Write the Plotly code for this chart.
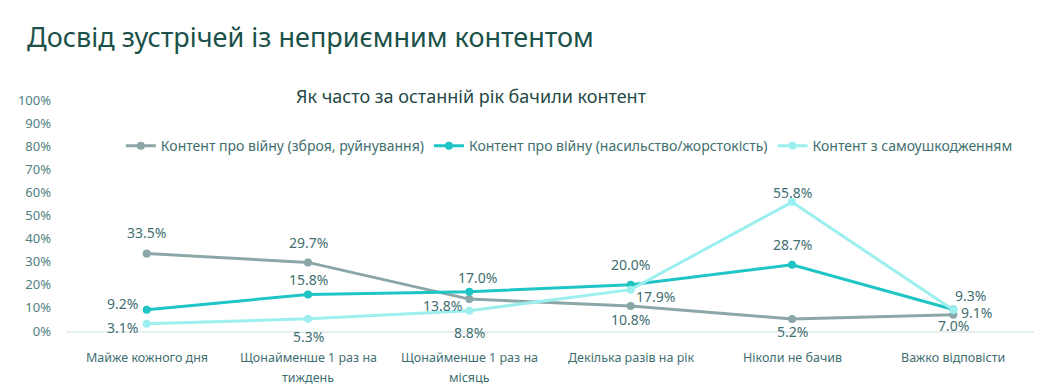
import plotly.graph_objects as go

categories = ["Майже кожного дня", "Щонайменше 1 раз на<br>тиждень", "Щонайменше 1 раз на<br>місяць",
              "Декілька разів на рік", "Ніколи не бачив", "Важко відповісти"]
series_names = ["Контент про війну (зброя, руйнування)",
                "Контент про війну (насильство/жорстокість)",
                "Контент з самоушкодженням"]
war_weapons = [33.5, 29.7, 13.8, 10.8, 5.2, 7.0]
war_violence = [9.2, 15.8, 17.0, 20.0, 28.7, 9.3]
self_harm = [3.1, 5.3, 8.8, 17.9, 55.8, 9.1]

colors = ["#8ba6a7", "#1fc4c4", "#9cefee"]
# label offsets in pixels (x, y-up)
label_shifts = [
    [(0, 21), (0, 20), (-27, -6), (0, -13), (0, -13), (0, -11)],
    [(-24, 6), (0, 15), (8, 14), (0, 20), (0, 20), (17, 14)],
    [(-24, -4), (0, -18), (0, -22), (25, -7), (0, 10), (23, -3)],
]

# page body has an 8px margin; compensate
OFF = 8
W, H = 1049 - OFF, 386 - OFF

fig = go.Figure()
annotations = []
for name, vals, col, shifts in zip(series_names, [war_weapons, war_violence, self_harm], colors, label_shifts):
    fig.add_trace(go.Scatter(
        x=categories, y=vals, name=name, mode="lines+markers",
        line=dict(color=col, width=3), marker=dict(color=col, size=8),
        cliponaxis=False,
    ))
    for c, v, (dx, dy) in zip(categories, vals, shifts):
        annotations.append(dict(x=c, y=v, xref="x", yref="y", text=f"{v:.1f}%", showarrow=False,
                                xshift=dx, yshift=dy, xanchor="center", yanchor="middle",
                                font=dict(size=14, color="#3f6f70", family="Noto Sans")))

# category labels (drawn as text below the axis, with wide line spacing)
for c in categories:
    for i, line in enumerate(c.split("<br>")):
        annotations.append(dict(x=c, y=0, xref="x", yref="paper", text=line, showarrow=False,
                                yshift=-(26 + 20 * i), xanchor="center", yanchor="middle",
                                font=dict(size=12.5, color="#3f6f70", family="Noto Sans")))

annotations.append(dict(text="Як часто за останній рік бачили контент", xref="paper", yref="paper",
                        x=0.419, y=1.017, xanchor="center", yanchor="middle", showarrow=False,
                        font=dict(size=18, color="#1f4a45", family="Noto Sans")))

fig.update_layout(
    width=W, height=H,
    margin=dict(l=66 - OFF, r=15, t=100 - OFF, b=55),
    paper_bgcolor="white", plot_bgcolor="white",
    font=dict(family="Noto Sans", color="#3f6f70"),
    title=dict(text="Досвід зустрічей із неприємним контентом", x=(27 - OFF) / W, xanchor="left",
               y=1 - (38 - OFF) / H, yanchor="middle", xref="container", yref="container",
               font=dict(size=27, color="#1b5149", family="Noto Sans")),
    legend=dict(orientation="h", x=0.52, xanchor="center", y=0.80, yanchor="middle",
                font=dict(size=14, color="#3f6f70"), bgcolor="rgba(0,0,0,0)",
                itemwidth=30, tracegroupgap=0),
    showlegend=True,
    annotations=annotations,
)
fig.update_yaxes(range=[0, 100], dtick=10, ticksuffix="%", showgrid=False, zeroline=False,
                 showline=False, tickfont=dict(size=13, color="#4f7f80"), ticklabelstandoff=14,
                 automargin=False)
fig.update_xaxes(range=[-0.5, 5.5], showgrid=False, showline=True, linecolor="#e6f0f0", linewidth=1.5,
                 showticklabels=False, automargin=False)

fig.write_html("out.html")
